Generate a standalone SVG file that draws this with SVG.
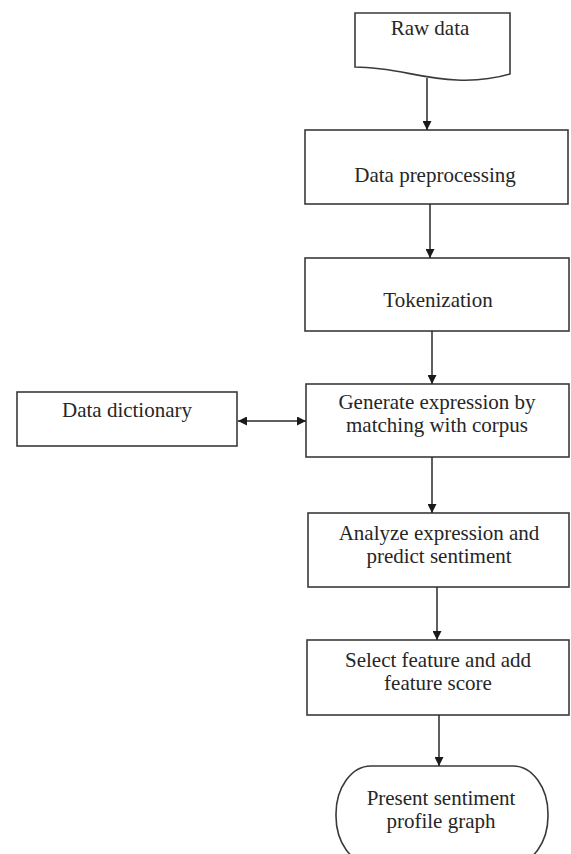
<svg xmlns="http://www.w3.org/2000/svg" width="571" height="854" viewBox="0 0 571 854">
<style>
.box{fill:#fff;stroke:#3a3a3a;stroke-width:1.6}
.lbl{font-family:"Liberation Serif","Times New Roman",serif;font-size:21px;fill:#262626;text-anchor:middle}
.con{stroke:#2a2a2a;stroke-width:1.5;fill:none}
</style>
<defs>
<marker id="ah" viewBox="0 0 10 10" refX="10" refY="5" markerWidth="9" markerHeight="9" markerUnits="userSpaceOnUse" orient="auto-start-reverse">
<path d="M0,0 L10,5 L0,10 Z" fill="#1a1a1a"/>
</marker>
</defs>
<rect width="571" height="854" fill="#fff"/>
<g id="raw-data">
<path class="box" d="M355,13 H510 V74 C500,77 480,81 457,80 C420,79 395,67 355,67 Z"/>
<text class="lbl" x="430" y="35">Raw data</text>
</g>
<g id="data-preprocessing">
<rect class="box" x="305" y="130" width="263" height="74"/>
<text class="lbl" x="435" y="182">Data preprocessing</text>
</g>
<g id="tokenization">
<rect class="box" x="305" y="258" width="264" height="73"/>
<text class="lbl" x="438" y="307">Tokenization</text>
</g>
<g id="data-dictionary">
<rect class="box" x="17" y="392" width="220" height="54"/>
<text class="lbl" x="127" y="417">Data dictionary</text>
</g>
<g id="generate-expression">
<rect class="box" x="306" y="384" width="263" height="73"/>
<text class="lbl" x="437" y="409">Generate expression by</text>
<text class="lbl" x="437" y="432">matching with corpus</text>
</g>
<g id="analyze-expression">
<rect class="box" x="308" y="513" width="261" height="74"/>
<text class="lbl" x="439" y="540">Analyze expression and</text>
<text class="lbl" x="439" y="563">predict sentiment</text>
</g>
<g id="select-feature">
<rect class="box" x="307" y="640" width="262" height="75"/>
<text class="lbl" x="438" y="667">Select feature and add</text>
<text class="lbl" x="438" y="690">feature score</text>
</g>
<g id="present-graph">
<rect class="box" x="336" y="766" width="212" height="98" rx="35" ry="48"/>
<text class="lbl" x="441" y="805">Present sentiment</text>
<text class="lbl" x="441" y="828">profile graph</text>
</g>
<g id="connectors">
<line class="con" x1="427" y1="78" x2="427" y2="130" marker-end="url(#ah)"/>
<line class="con" x1="430" y1="204" x2="430" y2="258" marker-end="url(#ah)"/>
<line class="con" x1="432" y1="331" x2="432" y2="384" marker-end="url(#ah)"/>
<line class="con" x1="432" y1="457" x2="432" y2="513" marker-end="url(#ah)"/>
<line class="con" x1="437" y1="587" x2="437" y2="640" marker-end="url(#ah)"/>
<line class="con" x1="439" y1="715" x2="439" y2="766" marker-end="url(#ah)"/>
<line class="con" x1="238" y1="421" x2="306" y2="421" marker-start="url(#ah)" marker-end="url(#ah)"/>
</g>
</svg>
